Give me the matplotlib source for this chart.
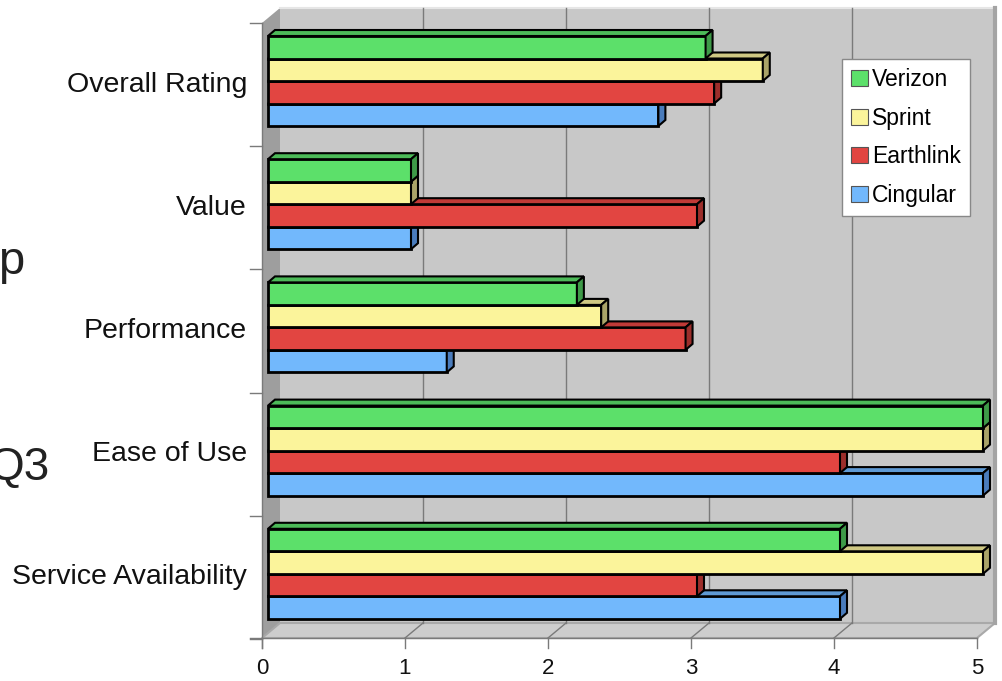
import matplotlib
matplotlib.use("Agg")
import matplotlib.pyplot as plt
from matplotlib.patches import Polygon, Patch

plt.rcParams['font.family'] = ['Liberation Sans', 'DejaVu Sans']

# data
categories = ["Overall Rating", "Value", "Performance", "Ease of Use", "Service Availability"]
series = ["Verizon", "Sprint", "Earthlink", "Cingular"]
verizon = [3.06, 1.0, 2.16, 5.0, 4.0]
sprint = [3.46, 1.0, 2.33, 5.0, 5.0]
earthlink = [3.12, 3.0, 2.92, 4.0, 3.0]
cingular = [2.73, 1.0, 1.25, 5.0, 4.0]
xticks = [0, 1, 2, 3, 4, 5]

values = [verizon, sprint, earthlink, cingular]
front = ["#5ce06a", "#fbf49b", "#e24541", "#72b8fc"]
top = ["#4cba58", "#cfc883", "#c03a37", "#5f9ad4"]
side = ["#3e9a48", "#aaa468", "#9c2e2b", "#4a7cbc"]

# layout (pixel based)
S = 143.0           # px per unit
X0 = 262.0          # px of value 0 on floor front
DX = 18 / S         # wall depth in x (units)
DY = -15            # wall depth in y (px)
BDX = 7 / S         # bar depth
BDY = -6
B0 = 6 / S          # bar front offset
FLOOR = 638
TOPW = 8
GROUP = 123.2
BH = 22.5

fig = plt.figure(figsize=(10.02, 6.81), dpi=100)
ax = fig.add_axes([0, 0, 1, 1])
ax.set_xlim(-X0 / S, (1002 - X0) / S)
ax.set_ylim(681, 0)
ax.axis('off')

xmax = xticks[-1]
# walls
ax.add_patch(Polygon([(DX, TOPW), (xmax + DX, TOPW), (xmax + DX, FLOOR + DY), (DX, FLOOR + DY)],
                     closed=True, fc="#c8c8c8", ec="none", zorder=1))
ax.add_patch(Polygon([(0, TOPW - DY), (DX, TOPW), (DX, FLOOR + DY), (0, FLOOR)],
                     closed=True, fc="#9e9e9e", ec="none", zorder=1))
ax.add_patch(Polygon([(0, FLOOR), (xmax, FLOOR), (xmax + DX, FLOOR + DY), (DX, FLOOR + DY)],
                     closed=True, fc="#cdcdcd", ec="#a9a9a9", lw=1.5, zorder=1))
ax.plot([DX, xmax + DX], [TOPW, TOPW], color="#e6e6e6", lw=1.5, zorder=1)
ax.plot([xmax + DX, xmax + DX], [TOPW, FLOOR + DY], color="#a4a4a4", lw=3, zorder=1)

# grid
for v in xticks[1:-1]:
    ax.plot([v + DX, v + DX], [TOPW, FLOOR + DY], color="#7a7a7a", lw=1, zorder=1.5)
    ax.plot([v, v + DX], [FLOOR, FLOOR + DY], color="#7a7a7a", lw=1, zorder=1.5)

# axes lines and ticks
ax.plot([-12 / S, xmax], [FLOOR, FLOOR], color="#7a7a7a", lw=1, zorder=2)
ax.plot([0, 0], [TOPW - DY, FLOOR + 10], color="#7a7a7a", lw=1, zorder=2)
for v in xticks:
    ax.plot([v, v], [FLOOR, FLOOR + 10], color="#7a7a7a", lw=1, zorder=2)
    ax.text(v, 669, str(v), ha='center', va='center', fontsize=16, color="#111111")
for k in range(len(categories) + 1):
    yb = TOPW - DY + k * GROUP
    ax.plot([-12 / S, 0], [yb, yb], color="#7a7a7a", lw=1, zorder=2)

# bars
for k, cat in enumerate(categories):
    yb = TOPW - DY + k * GROUP
    ax.text(-15 / S, yb + GROUP / 2, cat, ha='right', va='center', fontsize=20.5, color="#111111")
    for j in reversed(range(len(series))):
        v = values[j][k]
        y0 = yb + 13 + j * BH
        yc = y0 + BH / 2
        ax.barh(yc, v, left=B0, height=BH, color=front[j], edgecolor="black", lw=2, zorder=3 + (4 - j))
        e = B0 + v
        ax.add_patch(Polygon([(B0, y0), (B0 + BDX, y0 + BDY), (e + BDX, y0 + BDY), (e, y0)],
                             closed=True, fc=top[j], ec="black", lw=1.5, zorder=3 + (4 - j)))
        ax.add_patch(Polygon([(e, y0), (e + BDX, y0 + BDY), (e + BDX, y0 + BH + BDY), (e, y0 + BH)],
                             closed=True, fc=side[j], ec="black", lw=1.5, zorder=3 + (4 - j)))

# legend
handles = [Patch(fc=front[j], ec="#555555", lw=0.8, label=series[j]) for j in range(len(series))]
leg = ax.legend(handles=handles, loc='upper left', bbox_to_anchor=(842 / 1002, 1 - 59 / 681),
                bbox_transform=fig.transFigure, fontsize=16.5, handlelength=0.72, handleheight=0.72,
                handletextpad=0.2, labelspacing=0.68, borderpad=0.4, borderaxespad=0,
                fancybox=False, framealpha=1, edgecolor="#888888")
leg.get_frame().set_linewidth(1)
leg.set_zorder(20)

# stray slide text
ax.text(24 / S - X0 / S, 262, "p", ha='right', va='center', fontsize=34, color="#222222")
ax.text(50 / S - X0 / S, 468, "Q3", ha='right', va='center', fontsize=33, color="#222222")

fig.savefig("out.png", dpi=100)
